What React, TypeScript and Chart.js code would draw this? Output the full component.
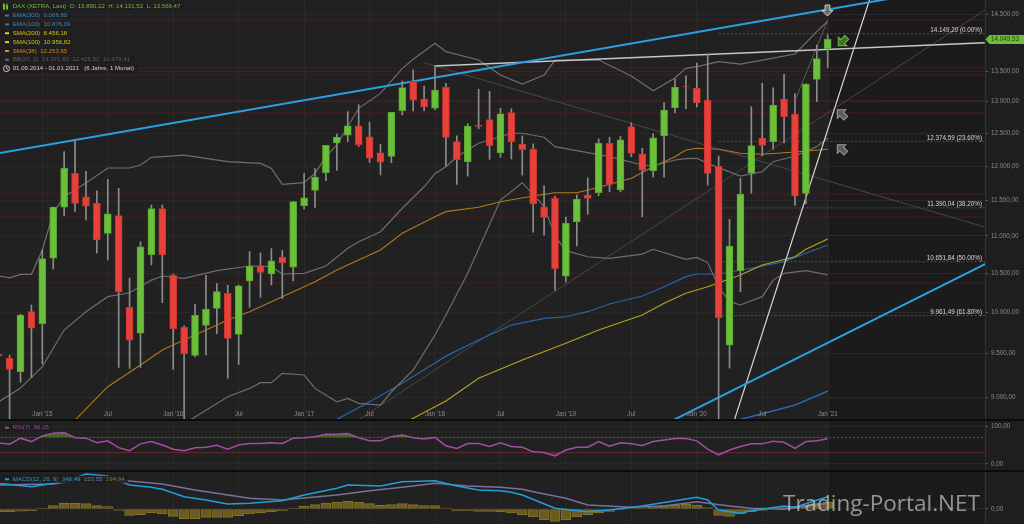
import React, { useEffect, useRef } from "react";
import { Chart, registerables } from "chart.js";

Chart.register(...registerables);

const FONT = "'Liberation Sans', Arial, sans-serif";
const FS = 6.1;

// ---- monthly candles, index 0 = Sep 2014 ... index 76 = Jan 2021 ----
const opens = [9490, 9445, 9288, 10010, 9860, 10700, 11400, 11890, 11550, 11455, 11035, 11280, 10064, 9744, 10745, 11380, 10473, 9816, 9480, 9840, 10050, 10240, 9730, 10400, 10600, 10490, 10710, 10580, 11420, 11640, 11900, 12350, 12470, 12616, 12443, 12200, 12146, 12857, 13335, 13045, 12896, 13236, 12370, 12065, 12627, 12714, 12200, 12825, 12333, 12256, 11407, 11531, 10463, 11196, 11575, 11608, 12344, 11647, 12605, 12185, 11932, 12457, 12906, 13257, 13219, 13028, 12000, 9600, 10533, 11892, 12424, 12369, 13039, 12803, 11599, 13368, 13890.22];
const highs = [9891, 9482, 9980, 10093, 10810, 11402, 12219, 12391, 11920, 11635, 11802, 11670, 10438, 10920, 11431, 11430, 10490, 9834, 10100, 10474, 10365, 10343, 10347, 10787, 10770, 10827, 10802, 11481, 11893, 11960, 12313, 12486, 12841, 12951, 12676, 12332, 12829, 13341, 13526, 13254, 13597, 13300, 12460, 12650, 13204, 13170, 12894, 12888, 12458, 12335, 11706, 11560, 11260, 11575, 11823, 12412, 12438, 12450, 12665, 12268, 12494, 12988, 13374, 13425, 13640, 13795, 12150, 11230, 11818, 12920, 13302, 13228, 13452, 13131, 13298, 13951, 14131.52];
const lows = [9219, 8355, 9165, 9219, 9382, 10555, 11281, 11340, 11220, 10767, 10675, 9338, 9326, 9338, 10611, 10123, 9314, 8699, 9462, 9485, 9738, 9214, 9373, 10065, 10190, 10347, 10175, 10400, 11374, 11398, 11784, 11936, 12370, 12294, 12054, 11868, 12049, 12787, 12850, 12852, 12871, 12003, 11727, 11850, 12570, 12100, 12131, 12105, 11865, 11051, 11010, 10279, 10387, 10863, 11299, 11562, 11620, 11620, 12140, 11266, 11836, 11833, 12819, 12888, 12915, 11718, 8256, 9331, 10262, 11600, 12157, 12250, 12350, 11427, 11450, 13003, 13566.47];
const closes = [9474, 9316, 9968, 9805, 10694, 11401, 11966, 11454, 11413, 10945, 11308, 10259, 9660, 10850, 11382, 10743, 9798, 9495, 9965, 10039, 10263, 9680, 10337, 10593, 10511, 10665, 10640, 11481, 11535, 11834, 12313, 12438, 12615, 12325, 12118, 12056, 12829, 13230, 13024, 12918, 13189, 12436, 12097, 12612, 12605, 12306, 12806, 12364, 12247, 11447, 11257, 10559, 11173, 11516, 11526, 12344, 11727, 12399, 12189, 11939, 12428, 12867, 13236, 13249, 12981, 11890, 9936, 10862, 11587, 12311, 12313, 12945, 12761, 11556, 13291, 13719, 14049.53];

// ---- axes ----
const xTickIdx = [4, 10, 16, 22, 28, 34, 40, 46, 52, 58, 64, 70, 76];
const xTickLabels = ["Jan '15", "Jul", "Jan '16", "Jul", "Jan '17", "Jul", "Jan '18", "Jul", "Jan '19", "Jul", "Jan '20", "Jul", "Jan '21"];
const priceTicks = [9000, 9500, 10000, 10500, 11000, 11500, 12000, 12500, 13000, 13500, 14500];
const X_MIN = 0.12;
const X_MAX = 90.42;
const Y_MIN = 8757;
const Y_MAX = 14756;

// ---- indicators ----
const bbUpperIdx = [0, 1, 2, 3, 4, 5, 6, 8, 10, 12, 13, 14, 17, 21, 24, 25, 26, 28, 29, 30, 31, 33, 35, 37, 38, 40, 41, 44, 46, 48, 50, 51, 55, 58, 60, 62, 63, 64, 66, 68, 70, 73, 75, 76];
const bbUpperVal = [10464, 10441, 10486, 10486, 10808, 11319, 11550, 11748, 11970, 11970, 12015, 12131, 12165, 12065, 12040, 11965, 11730, 11753, 11892, 12140, 12319, 12894, 13136, 13552, 13705, 13981, 13836, 13693, 13440, 13290, 13440, 13693, 13693, 13423, 13180, 13390, 13552, 13580, 13665, 13625, 13693, 13796, 14185, 14371.63];
const bbMidIdx = [0, 2, 4, 6, 8, 10, 12, 14, 15, 17, 20, 23, 25, 26, 28, 30, 32, 33, 35, 37, 39, 40, 41, 42, 44, 47, 48, 50, 51, 54, 56, 59, 60, 62, 63, 64, 65, 68, 70, 71, 73, 75, 76];
const bbMidVal = [8947, 9101, 9347, 9783, 10009, 10198, 10248, 10411, 10464, 10434, 10534, 10595, 10586, 10490, 10499, 10595, 10831, 10920, 11057, 11385, 11694, 11890, 11989, 12140, 12345, 12500, 12500, 12438, 12293, 12201, 12140, 12015, 12004, 12090, 12110, 12116, 12040, 11851, 11915, 12065, 12150, 12293, 12425.52];
const bbLowerIdx = [0, 4, 8, 12, 14, 17, 18, 21, 23, 24, 25, 26, 28, 29, 31, 32, 33, 35, 36, 38, 40, 41, 43, 46, 48, 50, 51, 52, 54, 56, 59, 60, 63, 64, 65, 66, 67, 68, 70, 71, 72, 74, 76];
const bbLowerVal = [7430, 7886, 8270, 8526, 8691, 8703, 8780, 9003, 9097, 9162, 9162, 9270, 9250, 9097, 8947, 8985, 8930, 8910, 9059, 9308, 9722, 9967, 10499, 11502, 11753, 11408, 11000, 10800, 10718, 10696, 10754, 10818, 10683, 10710, 10640, 10325, 10135, 10093, 10198, 10411, 10499, 10534, 10479.41];
const sma38Idx = [5, 7, 10, 13, 15, 18, 21, 23, 25, 26, 29, 31, 33, 35, 37, 40, 41, 44, 46, 49, 51, 53, 55, 58, 60, 62, 63, 64, 66, 68, 70, 72, 73, 76];
const sma38Val = [8520, 8745, 9116, 9366, 9543, 9722, 9905, 10009, 10135, 10198, 10389, 10543, 10674, 10808, 11035, 11266, 11337, 11399, 11478, 11560, 11608, 11608, 11686, 11817, 11990, 12140, 12242, 12268, 12252, 12193, 12178, 12201, 12212, 12253.65];
const sma100Idx = [35, 38, 41, 44, 48, 52, 55, 59, 61, 63, 65, 68, 70, 73, 74, 76];
const sma100Val = [8615, 8764, 8955, 9212, 9425, 9623, 9783, 9967, 10115, 10241, 10325, 10477, 10608, 10718, 10818, 10956.82];
const ema100Idx = [28, 31, 34, 37, 40, 41, 44, 47, 50, 52, 54, 56, 59, 61, 63, 64, 66, 69, 72, 74, 76];
const ema100Val = [8637, 8753, 8947, 9155, 9390, 9470, 9662, 9844, 9926, 9946, 10009, 10105, 10207, 10325, 10455, 10490, 10490, 10565, 10654, 10764, 10876.09];
const ema200Idx = [64, 68, 73, 76];
const ema200Val = [8637, 8753, 8910, 9066.8];
const sma200Last = 8456.18;

// ---- drawn trend lines (two anchor points each: month index, price) ----
const upperChannelIdx = [0.12, 84];
const upperChannelVal = [12196, 14861];
const lowerChannelIdx = [60.63, 90.88];
const lowerChannelVal = [8673, 10652];
const flatLineIdx = [40.0, 90.4];
const flatLineVal = [13591, 13991];
const steepLineIdx = [66.86, 80.8];
const steepLineVal = [8533, 15375];
const thinUpIdx = [33.1, 90.4];
const thinUpVal = [8756, 14570];
const thinDownIdx = [39.0, 90.4];
const thinDownVal = [13647, 11123];
const fanIdx = [73.1, 76];
const fanVal = [13060, 14393];

// ---- horizontal levels ----
const redLevels = [14393, 13558, 13440, 13012, 12819, 11589, 11261, 10373];
const fibLevels = [14149.2, 12374.59, 11390.04, 10651.84, 9961.49];
const fibPct = ["0.00%", "23.60%", "38.20%", "50.00%", "61.80%"];
const fibStartIdx = 66;

// ---- arrow markers ----
const arrowIdx = [75.98, 77.36, 77.27, 77.27];
const arrowVal = [14564, 14012, 12803, 12257];
const arrowDir = ["down", "downleft", "upleft", "upleft"];

// ---- RSI(7) and MACD(12,26,9) ----
const rsi = [56, 52, 68, 59, 74, 81, 83, 69, 68, 56, 61, 43, 35, 53, 59, 50, 39, 35, 43, 44, 49, 39, 50, 54, 54, 56, 54, 68, 69, 72, 78, 78, 80, 69, 61, 61, 72, 76, 69, 66, 70, 48, 41, 54, 54, 46, 56, 46, 44, 32, 30, 21, 37, 44, 44, 59, 47, 56, 53, 49, 59, 63, 67, 67, 61, 39, 24, 37, 46, 53, 53, 60, 57, 41, 59, 61, 66.25];
const rsiTicks = [0, 100];
const macdIdx = [0, 3, 4, 6, 8, 10, 12, 14, 15, 17, 19, 21, 23, 26, 28, 31, 32, 35, 37, 40, 42, 44, 46, 47, 48, 51, 54, 56, 59, 62, 64, 65, 66, 68, 69, 72, 73, 76];
const macdVal = [727, 631, 679, 773, 990, 934, 679, 614, 557, 348, 255, 142, 161, 235, 396, 586, 679, 651, 773, 801, 651, 538, 518, 473, 396, 20, -76, -28, 85, 235, 331, 255, -28, -123, -48, 85, 48, 348.49];
const signalIdx = [0, 5, 9, 12, 15, 18, 23, 26, 31, 34, 37, 40, 43, 46, 48, 49, 52, 54, 58, 61, 64, 67, 69, 72, 76];
const signalVal = [679, 707, 914, 792, 707, 538, 303, 255, 396, 518, 614, 727, 651, 614, 557, 490, 303, 113, 48, 85, 207, 85, 20, -8, 153.55];
const hist = [-75, -85, -65, -45, 20, 94, 160, 160, 150, 94, 66, -38, -180, -160, -113, -140, -208, -274, -274, -236, -236, -236, -189, -142, -113, -85, -47, 28, 75, 123, 170, 198, 217, 189, 151, 104, 123, 151, 123, 94, 94, 28, -47, -47, -66, -66, -85, -113, -160, -226, -302, -349, -302, -226, -160, -113, -66, -19, 10, 28, 57, 94, 113, 132, 113, 38, -180, -208, -142, -75, -38, 28, 75, 75, 113, 170, 194.94];

const N = closes.length;
const LAST = N - 1;
const GRID = "#292929";
const AXIS_W = 39;
const GREEN = "#6cbf3a";
const RED = "#e8413c";

function fmtDe(v: number, d = 2) {
  const neg = v < 0;
  const s = Math.abs(v).toFixed(d);
  const [ip, dp] = s.split(".");
  const grp = ip.replace(/\B(?=(\d{3})+(?!\d))/g, ".");
  return (neg ? "-" : "") + grp + (d ? "," + dp : "");
}

const pts = (xs: number[], ys: number[]) => xs.map((x, k) => ({ x, y: ys[k] }));

function lineDs(xs: number[], ys: number[], color: string, width: number, order: number, dash: number[] = []) {
  return {
    type: "line",
    data: pts(xs, ys),
    borderColor: color,
    borderWidth: width,
    borderDash: dash,
    pointRadius: 0,
    fill: false,
    tension: 0,
    order,
  };
}

function xAxis() {
  return {
    type: "linear",
    min: X_MIN,
    max: X_MAX,
    offset: false,
    afterBuildTicks: (s: any) => {
      s.ticks = xTickIdx.map((v) => ({ value: v }));
    },
    ticks: { display: false },
    grid: { color: GRID, drawTicks: false, offset: false },
    border: { display: false },
    afterFit: (s: any) => {
      s.height = 0;
      s.paddingLeft = 0;
      s.paddingRight = 0;
      s.paddingTop = 0;
      s.paddingBottom = 0;
    },
  };
}

function rightAxis(type: string, min: number, max: number, tickVals: number[]) {
  return {
    type,
    position: "right",
    min,
    max,
    beginAtZero: false,
    afterBuildTicks: (s: any) => {
      s.ticks = tickVals.map((v) => ({ value: v }));
    },
    afterFit: (s: any) => {
      s.width = AXIS_W;
      s.paddingTop = 0;
      s.paddingBottom = 0;
      s.paddingLeft = 0;
      s.paddingRight = 0;
    },
    ticks: {
      color: "#8a8a8a",
      font: { family: FONT, size: 6.3 },
      padding: 3,
      autoSkip: false,
      maxRotation: 0,
      callback: (v: any) => fmtDe(Number(v)),
    },
    grid: { color: GRID, tickLength: 3, tickColor: "#5a5a5a" },
    border: { display: true, color: "#333333" },
  };
}

function paintBackground(chart: any) {
  const { ctx, chartArea: a, scales } = chart;
  ctx.save();
  ctx.fillStyle = "#1e1e1e";
  ctx.fillRect(0, 0, chart.width, chart.height);
  const xe = Math.round(scales.x.getPixelForValue(LAST)) + 1;
  ctx.fillStyle = "#212121";
  ctx.fillRect(a.left, a.top, xe - a.left, a.bottom - a.top);
  ctx.fillStyle = "#1b1b1b";
  ctx.fillRect(xe, a.top, a.right - xe, a.bottom - a.top);
  ctx.restore();
}

function drawArrow(ctx: CanvasRenderingContext2D, cx: number, cy: number, ang: number, s: number, fill: string, stroke: string) {
  const p = [[0.5, 0], [0, -0.5], [0, -0.22], [-0.5, -0.22], [-0.5, 0.22], [0, 0.22], [0, 0.5]];
  ctx.save();
  ctx.translate(cx, cy);
  ctx.rotate(ang);
  ctx.beginPath();
  p.forEach(([a, b], k) => (k ? ctx.lineTo(a * s, b * s) : ctx.moveTo(a * s, b * s)));
  ctx.closePath();
  ctx.fillStyle = fill;
  ctx.fill();
  ctx.strokeStyle = stroke;
  ctx.lineWidth = 1;
  ctx.stroke();
  ctx.restore();
}

function legendRow(ctx: CanvasRenderingContext2D, y: number, parts: { t: string; c: string }[], icon: string, iconColor: string) {
  ctx.font = `${FS}px ${FONT}`;
  const text = parts.map((p) => p.t).join("");
  const w = ctx.measureText(text).width;
  ctx.fillStyle = "rgba(30,30,30,0.92)";
  ctx.fillRect(0, y - 3.5, 13 + w + 3, 7);
  if (icon === "dash") {
    ctx.fillStyle = iconColor;
    ctx.fillRect(5, y - 1, 4, 2);
  } else if (icon === "candle") {
    ctx.fillStyle = iconColor;
    ctx.fillRect(3, y - 2.5, 2, 5);
    ctx.fillRect(6, y - 1.5, 2, 4);
    ctx.fillRect(3.5, y - 3.5, 1, 7);
    ctx.fillRect(6.5, y - 3, 1, 6);
  } else if (icon === "clock") {
    ctx.strokeStyle = iconColor;
    ctx.lineWidth = 1;
    ctx.beginPath();
    ctx.arc(6.5, y, 3, 0, Math.PI * 2);
    ctx.moveTo(6.5, y - 1.8);
    ctx.lineTo(6.5, y);
    ctx.lineTo(8, y + 0.8);
    ctx.stroke();
  }
  ctx.textAlign = "left";
  ctx.textBaseline = "middle";
  let x = 12.7;
  parts.forEach((p) => {
    ctx.fillStyle = p.c;
    ctx.fillText(p.t, x, y);
    x += ctx.measureText(p.t).width;
  });
}

const mainDecor = {
  id: "mainDecor",
  beforeDraw: paintBackground,
  afterDraw(chart: any) {
    const { ctx, chartArea: a, scales } = chart;
    const xs = scales.x;
    const ys = scales.y;
    ctx.save();
    ctx.font = `6.3px ${FONT}`;
    // x labels inside the plot
    ctx.fillStyle = "#8a8a8a";
    ctx.textAlign = "center";
    ctx.textBaseline = "middle";
    xTickIdx.forEach((v, k) => ctx.fillText(xTickLabels[k], xs.getPixelForValue(v), a.bottom - 5));
    // fibonacci labels
    ctx.textAlign = "right";
    ctx.textBaseline = "alphabetic";
    ctx.fillStyle = "#d8d8d8";
    fibLevels.forEach((v, k) => ctx.fillText(`${fmtDe(v)} (${fibPct[k]})`, a.right - 3, ys.getPixelForValue(v) - 1.5));
    // arrows
    arrowIdx.forEach((iv, k) => {
      const cx = xs.getPixelForValue(iv);
      const cy = ys.getPixelForValue(arrowVal[k]);
      const d = arrowDir[k];
      if (d === "down") drawArrow(ctx, cx, cy, Math.PI / 2, 11, "#6e6e6e", "#d0d0d0");
      else if (d === "downleft") drawArrow(ctx, cx, cy, (3 * Math.PI) / 4, 12, "#3d7322", "#6cbf3a");
      else drawArrow(ctx, cx, cy, (-3 * Math.PI) / 4, 12, "#5c5c5c", "#9c9c9c");
    });
    // last price badge
    const last = closes[LAST];
    const by = ys.getPixelForValue(last);
    ctx.beginPath();
    ctx.moveTo(a.right + 0.5, by);
    ctx.lineTo(a.right + 4.5, by - 4.5);
    ctx.lineTo(chart.width, by - 4.5);
    ctx.lineTo(chart.width, by + 4.5);
    ctx.lineTo(a.right + 4.5, by + 4.5);
    ctx.closePath();
    ctx.fillStyle = GREEN;
    ctx.fill();
    ctx.fillStyle = "#1d3a0e";
    ctx.textAlign = "left";
    ctx.textBaseline = "middle";
    ctx.fillText(fmtDe(last), a.right + 6, by + 0.3);
    // legend
    const y0 = 6.7;
    const dy = 8.85;
    const dash = (c: string, t: string) => [{ t, c }];
    legendRow(ctx, y0, [{ t: `DAX (XETRA, Last)  O: ${fmtDe(opens[LAST])}  H: ${fmtDe(highs[LAST])}  L: ${fmtDe(lows[LAST])}`, c: "#77b942" }], "candle", GREEN);
    legendRow(ctx, y0 + dy, dash("#3388d2", `EMA(200)  ${fmtDe(ema200Val[ema200Val.length - 1])}`), "dash", "#2a80d0");
    legendRow(ctx, y0 + dy * 2, dash("#3388d2", `EMA(100)  ${fmtDe(ema100Val[ema100Val.length - 1])}`), "dash", "#2a80d0");
    legendRow(ctx, y0 + dy * 3, dash("#d2c21e", `SMA(200)  ${fmtDe(sma200Last)}`), "dash", "#e0d020");
    legendRow(ctx, y0 + dy * 4, dash("#d2c21e", `SMA(100)  ${fmtDe(sma100Val[sma100Val.length - 1])}`), "dash", "#e0d020");
    legendRow(ctx, y0 + dy * 5, dash("#cf8a1c", `SMA(38)  ${fmtDe(sma38Val[sma38Val.length - 1])}`), "dash", "#e09020");
    legendRow(ctx, y0 + dy * 6, dash("#5e5e5e", `BB(20, 2)  ${fmtDe(bbUpperVal[bbUpperVal.length - 1])}  ${fmtDe(bbMidVal[bbMidVal.length - 1])}  ${fmtDe(bbLowerVal[bbLowerVal.length - 1])}`), "dash", "#6a6a6a");
    legendRow(ctx, y0 + dy * 7, dash("#d0d0d0", "01.09.2014 - 01.01.2021   (6 Jahre, 1 Monat)"), "clock", "#cccccc");
    ctx.restore();
  },
};

const rsiDecor = {
  id: "rsiDecor",
  beforeDraw: paintBackground,
  afterDraw(chart: any) {
    const { ctx } = chart;
    ctx.save();
    legendRow(ctx, 6.7, [{ t: `RSI(7)  ${fmtDe(rsi[LAST])}`, c: "#9c4a9c" }], "dash", "#a04ca0");
    ctx.restore();
  },
};

const macdDecor = {
  id: "macdDecor",
  beforeDraw: paintBackground,
  afterDraw(chart: any) {
    const { ctx } = chart;
    ctx.save();
    legendRow(
      ctx,
      7.3,
      [
        { t: `MACD(12, 26, 9)  ${fmtDe(macdVal[macdVal.length - 1])}  `, c: "#1f9dd6" },
        { t: `${fmtDe(signalVal[signalVal.length - 1])}  `, c: "#7c6f9e" },
        { t: fmtDe(hist[LAST]), c: "#8a7628" },
      ],
      "dash",
      "#1f9dd6"
    );
    // watermark
    const text = "Trading-Portal.NET";
    ctx.font = `100px 'Open Sans', 'Noto Sans', sans-serif`;
    const w100 = ctx.measureText(text).width;
    const size = (197 / w100) * 100;
    ctx.font = `${size}px 'Open Sans', 'Noto Sans', sans-serif`;
    ctx.fillStyle = "rgba(222,222,222,0.62)";
    ctx.textAlign = "left";
    ctx.textBaseline = "alphabetic";
    ctx.fillText(text, 783, 38.5);
    ctx.restore();
  },
};

function baseOptions(yAxis: any) {
  return {
    responsive: false,
    animation: false,
    devicePixelRatio: 1,
    events: [],
    layout: { padding: 0 },
    plugins: { legend: { display: false }, tooltip: { enabled: false } },
    scales: { x: xAxis(), y: yAxis },
  };
}

function makeMain(canvas: HTMLCanvasElement) {
  const ii = closes.map((_, i) => i);
  const bodyColors = ii.map((i) => (closes[i] >= opens[i] ? GREEN : RED));
  const bodyBorders = ii.map((i) => (closes[i] >= opens[i] ? "#58a52c" : "#c93430"));
  const datasets: any[] = [
    {
      type: "bar",
      data: ii.map((i) => ({ x: i, y: [opens[i], closes[i]] })),
      backgroundColor: bodyColors,
      borderColor: bodyBorders,
      borderWidth: 1,
      borderSkipped: false,
      grouped: false,
      barPercentage: 1,
      categoryPercentage: 1,
      maxBarThickness: 7,
      order: 0,
    },
    {
      type: "bar",
      data: ii.map((i) => ({ x: i, y: [lows[i], highs[i]] })),
      backgroundColor: "#8c8c8c",
      borderWidth: 0,
      grouped: false,
      barPercentage: 1,
      categoryPercentage: 1,
      maxBarThickness: 1,
      order: 1,
    },
    lineDs(bbUpperIdx, bbUpperVal, "#6e6e6e", 1.2, 3),
    lineDs(bbMidIdx, bbMidVal, "#6e6e6e", 1.2, 3),
    lineDs(bbLowerIdx, bbLowerVal, "#6e6e6e", 1.2, 3),
    lineDs(sma38Idx, sma38Val, "#b07a1c", 1.1, 3),
    lineDs(sma100Idx, sma100Val, "#b8a41a", 1.1, 3),
    lineDs(ema100Idx, ema100Val, "#2766aa", 1.2, 3),
    lineDs(ema200Idx, ema200Val, "#2a72c6", 1.3, 3),
    lineDs(upperChannelIdx, upperChannelVal, "#2a9fe2", 2, 2),
    lineDs(lowerChannelIdx, lowerChannelVal, "#2a9fe2", 2, 2),
    lineDs(flatLineIdx, flatLineVal, "#c6c6c6", 1.6, 2),
    lineDs(steepLineIdx, steepLineVal, "#d6d6d6", 1.2, 2),
    lineDs(thinUpIdx, thinUpVal, "#474747", 1, 4),
    lineDs(thinDownIdx, thinDownVal, "#474747", 1, 4),
    lineDs(fanIdx, fanVal, "#5a5a5a", 1, 4),
    ...redLevels.map((v) => lineDs([-2, 95], [v, v], "#4f1d1d", 1, 9)),
    ...fibLevels.map((v) => lineDs([fibStartIdx, 95], [v, v], "#525252", 1, 8, [2, 2])),
  ];
  return new Chart(canvas, {
    type: "bar",
    data: { datasets },
    options: baseOptions(rightAxis("logarithmic", Y_MIN, Y_MAX, priceTicks)) as any,
    plugins: [mainDecor],
  } as any);
}

function makeRsi(canvas: HTMLCanvasElement) {
  const ii = rsi.map((_, i) => i);
  const data = ii.map((i) => ({ x: i, y: rsi[i] }));
  return new Chart(canvas, {
    type: "line",
    data: {
      datasets: [
        {
          data,
          borderColor: "#a24ea2",
          borderWidth: 1.5,
          pointRadius: 0,
          tension: 0,
          fill: { target: { value: 70 }, above: "rgba(66,112,32,0.9)", below: "rgba(0,0,0,0)" },
          order: 0,
        },
        {
          data,
          borderWidth: 0,
          borderColor: "rgba(0,0,0,0)",
          pointRadius: 0,
          tension: 0,
          fill: { target: { value: 30 }, above: "rgba(0,0,0,0)", below: "rgba(120,36,40,0.8)" },
          order: 1,
        },
        lineDs([-2, 95], [70, 70], "#3f6a26", 1, 2, [2, 2]),
        lineDs([-2, 95], [30, 30], "#5e2a32", 1, 2),
      ] as any,
    },
    options: baseOptions(rightAxis("linear", -15.8, 113.2, rsiTicks)) as any,
    plugins: [rsiDecor],
  } as any);
}

function makeMacd(canvas: HTMLCanvasElement) {
  const ii = hist.map((_, i) => i);
  return new Chart(canvas, {
    type: "bar",
    data: {
      datasets: [
        lineDs(macdIdx, macdVal, "#1f9fd9", 1.5, 0),
        lineDs(signalIdx, signalVal, "#7b6f9c", 1.5, 1),
        {
          type: "bar",
          data: ii.map((i) => ({ x: i, y: hist[i] })),
          backgroundColor: "#6b5b1e",
          borderColor: "#84722e",
          borderWidth: 1,
          borderSkipped: false,
          grouped: false,
          barPercentage: 1,
          categoryPercentage: 1,
          maxBarThickness: 10,
          order: 2,
        },
      ] as any,
    },
    options: baseOptions(rightAxis("linear", -425, 1047, [0])) as any,
    plugins: [macdDecor],
  } as any);
}

export default function App() {
  const mainRef = useRef<HTMLCanvasElement>(null);
  const rsiRef = useRef<HTMLCanvasElement>(null);
  const macdRef = useRef<HTMLCanvasElement>(null);
  useEffect(() => {
    Chart.defaults.font.family = FONT;
    const charts = [makeMain(mainRef.current!), makeRsi(rsiRef.current!), makeMacd(macdRef.current!)];
    return () => charts.forEach((c) => c.destroy());
  }, []);
  return (
    <div style={{ position: "fixed", left: 0, top: 0, width: 1024, height: 524, background: "#0b0b0b", overflow: "hidden" }}>
      <canvas ref={mainRef} width={1024} height={419} style={{ position: "absolute", left: 0, top: 0, width: 1024, height: 419 }} />
      <canvas ref={rsiRef} width={1024} height={49} style={{ position: "absolute", left: 0, top: 421, width: 1024, height: 49 }} />
      <canvas ref={macdRef} width={1024} height={52} style={{ position: "absolute", left: 0, top: 472, width: 1024, height: 52 }} />
    </div>
  );
}
